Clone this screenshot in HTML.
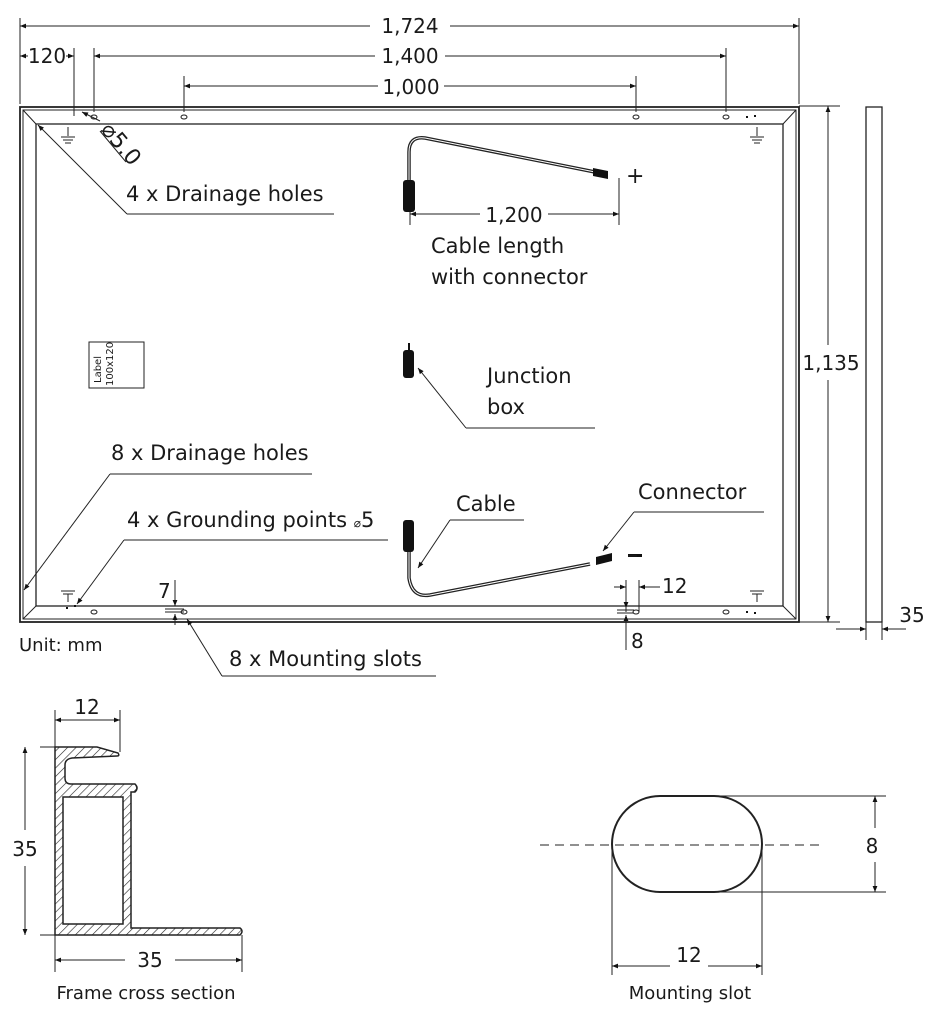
<!DOCTYPE html>
<html><head><meta charset="utf-8"><style>
html,body{margin:0;padding:0;background:#fff;}
svg{display:block;}
text{font-family:"DejaVu Sans","Liberation Sans",sans-serif;fill:#1a1a1a;}
</style></head><body>
<svg width="943" height="1015" viewBox="0 0 943 1015" xmlns="http://www.w3.org/2000/svg">
<defs>
<marker id="a" viewBox="0 0 10 10" refX="10" refY="5" markerWidth="9" markerHeight="6" orient="auto-start-reverse" markerUnits="userSpaceOnUse"><path d="M0,1 L10,5 L0,9z" fill="#111"/></marker>
<pattern id="h" width="6" height="6" patternUnits="userSpaceOnUse" patternTransform="rotate(45)"><line x1="0" y1="0" x2="0" y2="6" stroke="#222" stroke-width="1.2"/></pattern>
</defs>
<g stroke="#222" fill="none" stroke-width="1">
<line x1="20" y1="18" x2="20" y2="104"/>
<line x1="799" y1="18" x2="799" y2="104"/>
<line x1="74" y1="48" x2="74" y2="116"/>
<line x1="94" y1="48" x2="94" y2="112"/>
<line x1="726" y1="48" x2="726" y2="112"/>
<line x1="184" y1="76" x2="184" y2="112"/>
<line x1="636" y1="76" x2="636" y2="112"/>
<line x1="20" y1="26" x2="370" y2="26" marker-start="url(#a)"/>
<line x1="450" y1="26" x2="799" y2="26" marker-end="url(#a)"/>
<line x1="94" y1="56" x2="375" y2="56" marker-start="url(#a)"/>
<line x1="445" y1="56" x2="726" y2="56" marker-end="url(#a)"/>
<line x1="184" y1="86" x2="378" y2="86" marker-start="url(#a)"/>
<line x1="444" y1="86" x2="636" y2="86" marker-end="url(#a)"/>
<line x1="20" y1="56" x2="28" y2="56" marker-start="url(#a)"/>
<line x1="66" y1="56" x2="74" y2="56" marker-end="url(#a)"/>
<rect x="20" y="107" width="779" height="515" stroke-width="1.8"/>
<rect x="23" y="110" width="773" height="509" stroke-width="1"/>
<rect x="36" y="124" width="747" height="482" stroke-width="1.3"/>
<line x1="23" y1="110" x2="36" y2="124"/><line x1="796" y1="110" x2="783" y2="124"/>
<line x1="23" y1="619" x2="36" y2="606"/><line x1="796" y1="619" x2="783" y2="606"/>
<ellipse cx="94" cy="117" rx="3" ry="2"/><ellipse cx="184" cy="117" rx="3" ry="2"/>
<ellipse cx="636" cy="117" rx="3" ry="2"/><ellipse cx="726" cy="117" rx="3" ry="2"/>
<ellipse cx="94" cy="612" rx="3" ry="2"/><ellipse cx="184" cy="612" rx="3" ry="2"/>
<ellipse cx="636" cy="612" rx="3" ry="2"/><ellipse cx="726" cy="612" rx="3" ry="2"/>
<g><line x1="68" y1="127" x2="68" y2="136"/><line x1="61" y1="137" x2="75" y2="137"/><line x1="63" y1="140" x2="73" y2="140"/><line x1="65" y1="143" x2="71" y2="143"/></g>
<g><line x1="757" y1="127" x2="757" y2="136"/><line x1="750" y1="137" x2="764" y2="137"/><line x1="752" y1="140" x2="762" y2="140"/><line x1="754" y1="143" x2="760" y2="143"/></g>
<g><line x1="61" y1="591" x2="75" y2="591"/><line x1="63" y1="594" x2="73" y2="594"/><line x1="68" y1="594" x2="68" y2="602"/></g>
<g><line x1="750" y1="591" x2="764" y2="591"/><line x1="752" y1="594" x2="762" y2="594"/><line x1="757" y1="594" x2="757" y2="602"/></g>
<rect x="866" y="107" width="16" height="515" stroke-width="1.3"/>
<line x1="799" y1="106" x2="840" y2="106"/><line x1="799" y1="622" x2="840" y2="622"/>
<line x1="828" y1="106" x2="828" y2="345" marker-start="url(#a)"/>
<line x1="828" y1="380" x2="828" y2="622" marker-end="url(#a)"/>
<line x1="866" y1="622" x2="866" y2="640"/><line x1="882" y1="622" x2="882" y2="640"/>
<line x1="836" y1="629" x2="866" y2="629" marker-end="url(#a)"/>
<line x1="906" y1="629" x2="882" y2="629" marker-end="url(#a)"/>
<line x1="100" y1="121" x2="82" y2="112" marker-end="url(#a)"/>
<line x1="126" y1="162" x2="100" y2="131"/>
<line x1="334" y1="214" x2="127" y2="214"/>
<line x1="127" y1="214" x2="38" y2="125" marker-end="url(#a)"/>
<line x1="312" y1="474" x2="110" y2="474"/>
<line x1="110" y1="474" x2="24" y2="590" marker-end="url(#a)"/>
<line x1="388" y1="540" x2="124" y2="540"/>
<line x1="124" y1="540" x2="77" y2="604" marker-end="url(#a)"/>
<line x1="595" y1="428" x2="466" y2="428"/>
<line x1="466" y1="428" x2="418" y2="368" marker-end="url(#a)"/>
<line x1="524" y1="520" x2="450" y2="520"/>
<line x1="450" y1="520" x2="418" y2="568" marker-end="url(#a)"/>
<line x1="764" y1="512" x2="634" y2="512"/>
<line x1="634" y1="512" x2="603" y2="551" marker-end="url(#a)"/>
<line x1="436" y1="676" x2="222" y2="676"/>
<line x1="222" y1="676" x2="187" y2="619" marker-end="url(#a)"/>
<line x1="175" y1="580" x2="175" y2="606" marker-end="url(#a)"/>
<line x1="165" y1="609" x2="184" y2="609"/><line x1="165" y1="612" x2="184" y2="612"/>
<line x1="175" y1="625" x2="175" y2="614" marker-end="url(#a)"/>
<line x1="626" y1="580" x2="626" y2="612"/><line x1="639" y1="580" x2="639" y2="612"/>
<line x1="614" y1="587" x2="626" y2="587" marker-end="url(#a)"/>
<line x1="660" y1="587" x2="639" y2="587" marker-end="url(#a)"/>
<line x1="617" y1="610" x2="634" y2="610"/><line x1="617" y1="613" x2="634" y2="613"/>
<line x1="626" y1="597" x2="626" y2="608" marker-end="url(#a)"/>
<line x1="626" y1="650" x2="626" y2="615" marker-end="url(#a)"/>
<path d="M409,182 L409,152 Q409,136 425,138 L595,172" stroke-width="3.5"/>
<path d="M409,182 L409,152 Q409,136 425,138 L595,172" stroke="#fff" stroke-width="1"/>
<line x1="410" y1="212" x2="410" y2="225"/><line x1="619" y1="178" x2="619" y2="225"/>
<line x1="410" y1="214" x2="480" y2="214" marker-start="url(#a)"/>
<line x1="548" y1="214" x2="619" y2="214" marker-end="url(#a)"/>
<path d="M409,552 L409,578 Q412,598 430,595 L590,564" stroke-width="3.5"/>
<path d="M409,552 L409,578 Q412,598 430,595 L590,564" stroke="#fff" stroke-width="1"/>
<rect x="89" y="342" width="55" height="46"/>
</g>
<g fill="#111">
<rect x="403" y="180" width="12" height="32" rx="3"/>
<rect x="403" y="350" width="11" height="28" rx="3"/>
<rect x="408" y="343" width="2" height="8"/>
<rect x="403" y="520" width="11" height="32" rx="3"/>
<path d="M593,168 l15,3 l0,8 l-15,-3z"/>
<path d="M596,557 l16,-4 l0,8 l-16,4z"/>
<rect x="628" y="554" width="14" height="3"/>
<rect x="746" y="116" width="2" height="2"/><rect x="754" y="115" width="2" height="2"/>
<rect x="66" y="607" width="2" height="2"/><rect x="74" y="605" width="2" height="2"/>
<rect x="746" y="611" width="2" height="2"/><rect x="754" y="612" width="2" height="2"/>
</g>
<g font-size="20">
<text x="410" y="33" text-anchor="middle">1,724</text>
<text x="410" y="63" text-anchor="middle">1,400</text>
<text x="411" y="94" text-anchor="middle">1,000</text>
<text x="47" y="63" text-anchor="middle">120</text>
<text x="514" y="222" text-anchor="middle">1,200</text>
<text x="831" y="370" text-anchor="middle">1,135</text>
<text x="912" y="622" text-anchor="middle">35</text>
<g font-size="21">
<text x="126" y="201">4 x Drainage holes</text>
<text x="431" y="253">Cable length</text>
<text x="431" y="284">with connector</text>
<text x="487" y="383">Junction</text>
<text x="487" y="414">box</text>
<text x="111" y="460">8 x Drainage holes</text>
<text x="127" y="527">4 x Grounding points <tspan font-size="12">⌀</tspan>5</text>
<text x="456" y="511">Cable</text>
<text x="638" y="499">Connector</text>
<text x="229" y="666">8 x Mounting slots</text>
</g>
<text x="158" y="598">7</text>
<text x="662" y="593">12</text>
<text x="631" y="648">8</text>
<text x="19" y="651" font-size="18">Unit: mm</text>
<text x="100" y="130" font-size="22" transform="rotate(50 100 130)">⌀5.0</text>
<text x="626" y="183" font-size="22">+</text>
<text x="627" y="562" font-size="22">–</text>
<text font-size="10" transform="translate(101 383) rotate(-90)">Label</text>
<text font-size="10" transform="translate(113 386) rotate(-90)">100x120</text>
</g>
<g stroke="#222" fill="none" stroke-width="1">
<line x1="40" y1="747" x2="55" y2="747"/><line x1="40" y1="935" x2="55" y2="935"/>
<line x1="25" y1="747" x2="25" y2="830" marker-start="url(#a)"/>
<line x1="25" y1="866" x2="25" y2="935" marker-end="url(#a)"/>
<line x1="55" y1="710" x2="55" y2="747"/><line x1="120" y1="710" x2="120" y2="752"/>
<line x1="55" y1="720" x2="120" y2="720" marker-start="url(#a)" marker-end="url(#a)"/>
<line x1="55" y1="935" x2="55" y2="972"/><line x1="242" y1="935" x2="242" y2="972"/>
<line x1="55" y1="960" x2="125" y2="960" marker-start="url(#a)"/>
<line x1="175" y1="960" x2="242" y2="960" marker-end="url(#a)"/>
<path fill="url(#h)" stroke-width="1.5" fill-rule="evenodd" d="M55,747 L97,747 L118,753 Q120,756 117,756 L72,758 Q65,759 65,765 L65,778 Q65,784 71,784 L135,784 Q139,788 135,792 L131,792 L131,928 L240,928 Q244,931 240,935 L55,935 Z M63,797 L63,924 L123,924 L123,797 Z"/>
</g>
<g font-size="20">
<text x="87" y="714" text-anchor="middle">12</text>
<text x="25" y="856" text-anchor="middle">35</text>
<text x="150" y="967" text-anchor="middle">35</text>
<text x="146" y="999" font-size="18" text-anchor="middle">Frame cross section</text>
<text x="689" y="962" text-anchor="middle">12</text>
<text x="872" y="853" text-anchor="middle">8</text>
<text x="690" y="999" font-size="18" text-anchor="middle">Mounting slot</text>
</g>
<g stroke="#222" fill="none" stroke-width="1">
<rect x="612" y="796" width="150" height="96" rx="48" ry="48" stroke-width="2"/>
<line x1="540" y1="845" x2="825" y2="845" stroke-dasharray="9,6"/>
<line x1="660" y1="796" x2="886" y2="796"/><line x1="700" y1="892" x2="886" y2="892"/>
<line x1="875" y1="796" x2="875" y2="828" marker-start="url(#a)"/>
<line x1="875" y1="862" x2="875" y2="892" marker-end="url(#a)"/>
<line x1="612" y1="845" x2="612" y2="975"/><line x1="762" y1="845" x2="762" y2="975"/>
<line x1="612" y1="966" x2="670" y2="966" marker-start="url(#a)"/>
<line x1="708" y1="966" x2="762" y2="966" marker-end="url(#a)"/>
</g>
</svg>
</body></html>
